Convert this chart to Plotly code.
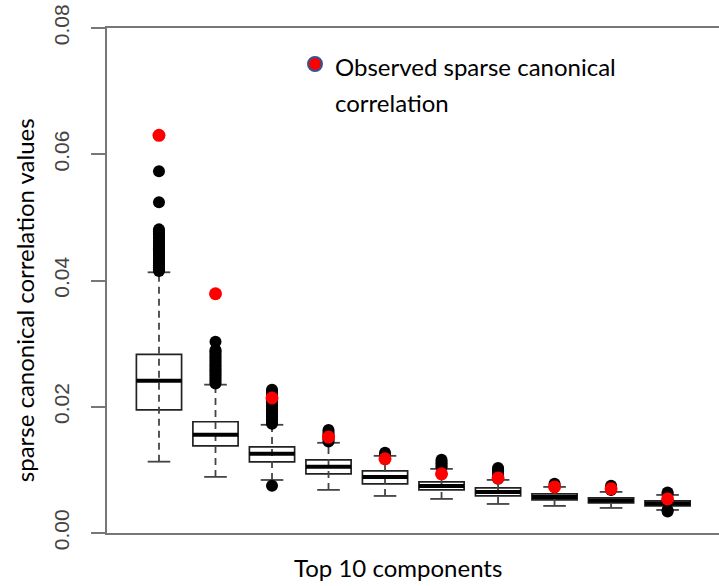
import plotly.graph_objects as go

# ---- data ----
components = [1, 2, 3, 4, 5, 6, 7, 8, 9, 10]
q1 = [0.0195, 0.01381, 0.01127, 0.00937, 0.00778, 0.00683, 0.00587, 0.00524, 0.00476, 0.00429]
median = [0.0241, 0.01556, 0.01254, 0.01048, 0.00889, 0.00746, 0.00651, 0.00571, 0.00516, 0.00468]
q3 = [0.0283, 0.01762, 0.01365, 0.01159, 0.00984, 0.00810, 0.00714, 0.00619, 0.00556, 0.00508]
whisker_low = [0.0113, 0.00889, 0.00840, 0.00683, 0.00587, 0.00540, 0.00460, 0.00429, 0.00397, 0.00365]
whisker_high = [0.0413, 0.0235, 0.01714, 0.01429, 0.01222, 0.01016, 0.00841, 0.00730, 0.00651, 0.00603]
outliers = [
    [0.0415, 0.0418, 0.0421, 0.0424, 0.0427, 0.0430, 0.0433, 0.0436, 0.0439, 0.0442, 0.0445,
     0.0448, 0.0451, 0.0454, 0.0457, 0.0460, 0.0463, 0.0466, 0.0469, 0.0472, 0.0475, 0.0478,
     0.0481, 0.0524, 0.0573],
    [0.0237, 0.0240, 0.0243, 0.0246, 0.0249, 0.0252, 0.0255, 0.0258, 0.0261, 0.0264, 0.0267,
     0.0270, 0.0273, 0.0276, 0.0279, 0.0282, 0.0285, 0.0288, 0.0290, 0.0303],
    [0.0075, 0.0173, 0.0176, 0.0179, 0.0182, 0.0185, 0.0188, 0.0191, 0.0194, 0.0197, 0.0200,
     0.0203, 0.0206, 0.0209, 0.0212, 0.0215, 0.0218, 0.0221, 0.0224, 0.0227],
    [0.0145, 0.0148, 0.0151, 0.0154, 0.0157, 0.0160, 0.0163],
    [0.0124, 0.0127],
    [0.0104, 0.0107, 0.0110, 0.0113, 0.0116],
    [0.0086, 0.0089, 0.0092, 0.0095, 0.0098, 0.0101, 0.0103],
    [0.0075, 0.0078],
    [0.0068, 0.0070, 0.0072, 0.0075],
    [0.0034, 0.0036, 0.0062, 0.0064],
]
observed = [0.0630, 0.0379, 0.0214, 0.0152, 0.01175, 0.00937, 0.00873, 0.00730, 0.00700, 0.00540]
y_ticks = [0.00, 0.02, 0.04, 0.06, 0.08]
y_ticklabels = ["0.00", "0.02", "0.04", "0.06", "0.08"]
x_title = "Top 10 components"
y_title = "sparse canonical correlation values"
legend_lines = ["Observed sparse canonical", "correlation"]

BOXW = 0.8
CAPW = 0.4
TEXT_FONT = "Lato, 'Open Sans', sans-serif"
TEXT_SIZE = 24

fig = go.Figure()

# dashed whiskers (drawn first so the box covers its middle)
wx, wy = [], []
for c, lo, hi in zip(components, whisker_low, whisker_high):
    wx += [c, c, None]
    wy += [lo, hi, None]
fig.add_trace(go.Scatter(x=wx, y=wy, mode="lines", showlegend=False, hoverinfo="skip",
                         line=dict(color="#444444", width=1.8, dash="7px,5px")))

# caps
cx, cy = [], []
for c, lo, hi in zip(components, whisker_low, whisker_high):
    cx += [c - CAPW / 2, c + CAPW / 2, None, c - CAPW / 2, c + CAPW / 2, None]
    cy += [lo, lo, None, hi, hi, None]
fig.add_trace(go.Scatter(x=cx, y=cy, mode="lines", showlegend=False, hoverinfo="skip",
                         line=dict(color="#444444", width=1.8)))

# boxes
fig.add_trace(go.Box(x=components, q1=q1, median=median, q3=q3,
                     lowerfence=q1, upperfence=q3, width=BOXW,
                     fillcolor="white", line=dict(color="#222222", width=1.7),
                     boxpoints=False, showlegend=False, hoverinfo="skip"))

# thick medians
mx, my = [], []
for c, m in zip(components, median):
    mx += [c - BOXW / 2, c + BOXW / 2, None]
    my += [m, m, None]
fig.add_trace(go.Scatter(x=mx, y=my, mode="lines", showlegend=False, hoverinfo="skip",
                         line=dict(color="black", width=4)))

# outliers
ox, oy = [], []
for c, vals in zip(components, outliers):
    ox += [c] * len(vals)
    oy += vals
fig.add_trace(go.Scatter(x=ox, y=oy, mode="markers", showlegend=False, hoverinfo="skip",
                         marker=dict(color="black", size=12, line=dict(width=0))))

# observed values
fig.add_trace(go.Scatter(x=components, y=observed, mode="markers", showlegend=False,
                         hoverinfo="skip",
                         marker=dict(color="#ff0000", size=13, line=dict(width=0))))

fig.update_layout(
    width=719, height=586,
    margin=dict(l=107, r=0, t=28, b=53),
    plot_bgcolor="white", paper_bgcolor="white",
    xaxis=dict(range=[0.08, 10.91], showgrid=False, zeroline=False,
               showticklabels=False, ticks="",
               showline=True, mirror=True, linecolor="#777777", linewidth=2),
    yaxis=dict(range=[0, 0.08], tickvals=y_ticks, ticktext=y_ticklabels,
               showgrid=False, zeroline=False, ticks="outside", ticklen=14,
               tickwidth=2, tickcolor="#777777", tickangle=-90,
               ticklabelstandoff=14,
               tickfont=dict(family="'Liberation Sans', Arial, sans-serif", size=21,
                             color="#444444"),
               showline=True, mirror=False, linecolor="#777777", linewidth=2),
    annotations=[
        dict(text=y_title, xref="paper", yref="paper", x=0, y=0.461, xshift=-83,
             xanchor="center", yanchor="middle", textangle=-90, showarrow=False,
             font=dict(family=TEXT_FONT, size=TEXT_SIZE, color="black")),
        dict(text=x_title, xref="paper", yref="paper", x=0.475, y=-0.069,
             xanchor="center", yanchor="middle", showarrow=False,
             font=dict(family=TEXT_FONT, size=TEXT_SIZE, color="black")),
        dict(text=legend_lines[0], xref="paper", yref="paper", x=0.369, y=0.923,
             xanchor="left", yanchor="middle", showarrow=False,
             font=dict(family=TEXT_FONT, size=TEXT_SIZE, color="black")),
        dict(text=legend_lines[1], xref="paper", yref="paper", x=0.369, y=0.853,
             xanchor="left", yanchor="middle", showarrow=False,
             font=dict(family=TEXT_FONT, size=TEXT_SIZE, color="black")),
    ],
    shapes=[
        dict(type="circle", xref="paper", yref="paper",
             xsizemode="pixel", ysizemode="pixel",
             xanchor=(315 - 107) / 612, yanchor=(533 - 64) / 505,
             x0=-7, x1=7, y0=-7, y1=7,
             fillcolor="#ff0000", line=dict(color="#2F5597", width=2)),
    ],
)

fig.write_html("out.html")
